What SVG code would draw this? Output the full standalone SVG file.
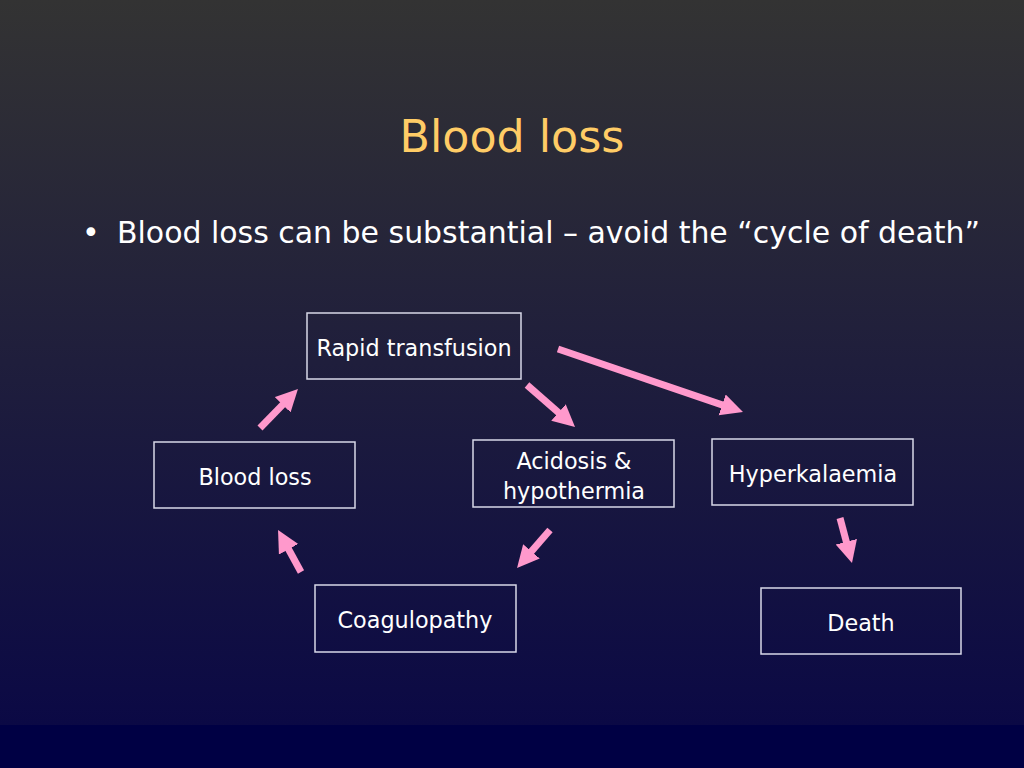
<svg xmlns="http://www.w3.org/2000/svg" width="1024" height="768" viewBox="0 0 1024 768">
<defs>
<linearGradient id="bg" x1="0" y1="0" x2="0" y2="1">
<stop offset="0" stop-color="#333333"/>
<stop offset="1" stop-color="#0b0945"/>
</linearGradient>
<marker id="ah" markerUnits="userSpaceOnUse" markerWidth="24" markerHeight="24" refX="10" refY="11" orient="auto">
<path d="M0,0 L22,11 L0,22 z" fill="#ff99cc"/>
</marker>
<style>
.box{fill:none;stroke:#d8d8e8;stroke-width:1.5}
.lbl{font-family:"DejaVu Sans","Noto Sans",sans-serif;font-size:22.3px;fill:#ffffff;text-anchor:middle}
.arr{stroke:#ff99cc;stroke-width:7;fill:none;marker-end:url(#ah)}
</style>
</defs>
<rect x="0" y="0" width="1024" height="725" fill="url(#bg)"/>
<rect x="0" y="725" width="1024" height="43" fill="#000044"/>
<text x="512" y="152" font-family="DejaVu Sans, sans-serif" font-size="44" fill="#ffcc66" text-anchor="middle" textLength="225" lengthAdjust="spacingAndGlyphs">Blood loss</text>
<text x="82" y="243" font-family="DejaVu Sans, sans-serif" font-size="30" fill="#ffffff">•</text>
<text x="117" y="243" font-family="DejaVu Sans, sans-serif" font-size="30" fill="#ffffff" textLength="863" lengthAdjust="spacingAndGlyphs">Blood loss can be substantial – avoid the “cycle of death”</text>
<g id="connectors">
<line class="arr" x1="260" y1="428" x2="289.6" y2="397.6"/>
<line class="arr" x1="527" y1="385" x2="566" y2="419.1"/>
<line class="arr" x1="558" y1="349" x2="731.6" y2="408.1"/>
<line class="arr" x1="550" y1="530" x2="524.9" y2="558.9"/>
<line class="arr" x1="301" y1="572" x2="283.8" y2="540.5"/>
<line class="arr" x1="840" y1="518" x2="848.9" y2="551.4"/>
</g>
<g id="rapid"><rect class="box" x="307" y="313" width="214" height="66"/><text class="lbl" x="414" y="356">Rapid transfusion</text></g>
<g id="bloodloss"><rect class="box" x="154" y="442" width="201" height="66"/><text class="lbl" x="255" y="485">Blood loss</text></g>
<g id="acidosis"><rect class="box" x="473" y="440" width="201" height="67"/><text class="lbl" x="574" y="469">Acidosis &amp;</text><text class="lbl" x="574" y="499">hypothermia</text></g>
<g id="hyper"><rect class="box" x="712" y="439" width="201" height="66"/><text class="lbl" x="813" y="482">Hyperkalaemia</text></g>
<g id="coag"><rect class="box" x="315" y="585" width="201" height="67"/><text class="lbl" x="415" y="628">Coagulopathy</text></g>
<g id="death"><rect class="box" x="761" y="588" width="200" height="66"/><text class="lbl" x="861" y="631">Death</text></g>
</svg>
